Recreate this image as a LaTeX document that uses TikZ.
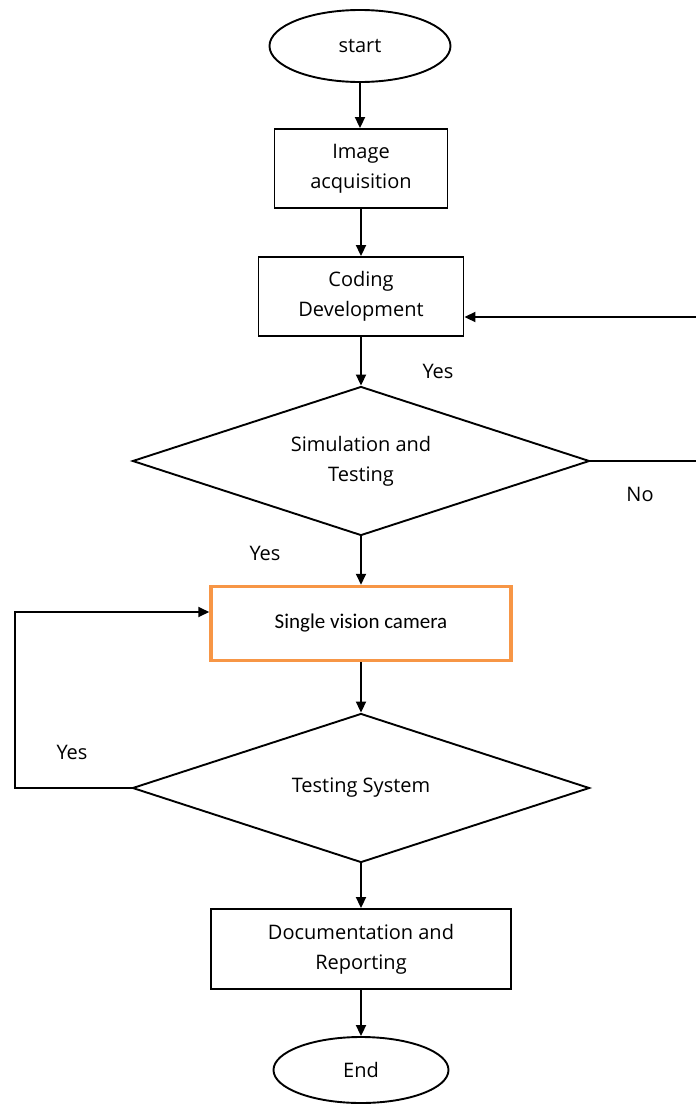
\documentclass[tikz,border=0pt]{standalone}
\usepackage{fontspec}
\setmainfont{Open Sans}
\newfontfamily\calib{Carlito}
\usetikzlibrary{shapes.geometric,arrows.meta}
\definecolor{borange}{HTML}{F79646}
\tikzset{
  base/.style={draw=black, line width=1.9pt, font=\fontsize{20}{30}\selectfont, align=center, inner sep=0pt},
  term/.style={base, ellipse},
  procbox/.style={base, rectangle},
  decide/.style={base, diamond, aspect=3.07},
  camstyle/.style={draw=borange, line width=3.5pt, rectangle, font=\calib\fontsize{21}{26}\selectfont, inner sep=0pt},
  conn/.style={line width=1.9pt, -{Triangle[length=11pt,width=10pt]}},
  lbl/.style={font=\fontsize{20}{24}\selectfont, inner sep=0pt}
}
\begin{document}
\begin{tikzpicture}[x=1pt,y=-1pt]
\useasboundingbox[fill=white] (0,0) rectangle (696,1106);
\node[term, minimum width=181pt, minimum height=72pt] (start) at (360,46) {start};
\node[procbox, minimum width=173pt, minimum height=79pt] (img) at (361,168.5) {Image\\acquisition};
\node[procbox, minimum width=205pt, minimum height=79pt] (code) at (361,296.5) {Coding\\Development};
\node[decide, minimum width=457pt, minimum height=149pt] (sim) at (361,461) {Simulation and\\Testing};
\node[camstyle, minimum width=300pt, minimum height=74pt] (cam) at (361,623.5) {Single vision camera};
\node[decide, minimum width=457pt, minimum height=149pt] (test) at (361,788) {Testing System};
\node[procbox, minimum width=300pt, minimum height=80pt] (doc) at (361,949) {Documentation and\\Reporting};
\node[term, minimum width=175pt, minimum height=66pt] (end) at (361,1070) {End};

\coordinate (nr) at (700,461);
\coordinate (nt) at (700,317);
\coordinate (yl) at (15,788);
\coordinate (yt) at (15,612);

\draw[conn] (start) -- (start |- img.north);
\draw[conn] (img) -- (code);
\draw[conn] (code) -- (sim);
\draw[conn] (sim) -- (cam);
\draw[conn] (cam) -- (test);
\draw[conn] (test) -- (doc);
\draw[conn] (doc) -- (end);
\draw[conn] (sim.east) -- (nr) -- (nt) -- (code.east |- nt);
\draw[conn] (test.west) -- (yl) -- (yt) -- (cam.west |- yt);

\node[lbl] (y1) at (438,371) {Yes};
\node[lbl] (n1) at (640,494) {No};
\node[lbl] (y2) at (265,553) {Yes};
\node[lbl] (y3) at (72,752) {Yes};
\end{tikzpicture}
\end{document}
